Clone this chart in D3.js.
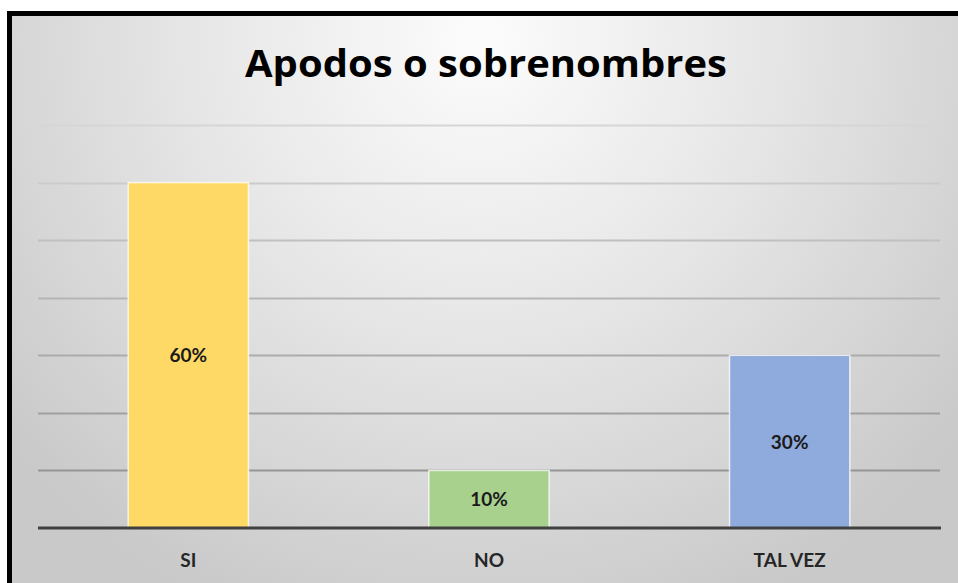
<!DOCTYPE html>
<html>
<head>
<meta charset="utf-8">
<script src="https://cdn.jsdelivr.net/npm/d3@7"></script>
<style>
  html, body { margin: 0; padding: 0; background: #ffffff; }
  svg { display: block; }
</style>
</head>
<body>
<svg id="chart" width="958" height="583"></svg>
<script>
const title = "Apodos o sobrenombres";
const categories = ["SI", "NO", "TAL VEZ"];
const values = [0.60, 0.10, 0.30];
const valueLabels = ["60%", "10%", "30%"];
const gridTicks = [0, 0.1, 0.2, 0.3, 0.4, 0.5, 0.6, 0.7];
const barColors = ["#FFD966", "#A9D18E", "#8FAADC"];

const W = 958, H = 583;
const svg = d3.select("#chart");
const defs = svg.append("defs");

const bg = defs.append("radialGradient")
  .attr("id", "bgGrad")
  .attr("gradientUnits", "userSpaceOnUse")
  .attr("cx", 480).attr("cy", 40).attr("r", 620);
bg.append("stop").attr("offset", "0").attr("stop-color", "#fcfcfc");
bg.append("stop").attr("offset", "0.45").attr("stop-color", "#e7e7e7");
bg.append("stop").attr("offset", "1").attr("stop-color", "#c9c9c9");

// chart area + frame
svg.append("rect")
  .attr("x", 9.5).attr("y", 13.5)
  .attr("width", W + 20).attr("height", H + 20)
  .attr("fill", "url(#bgGrad)")
  .attr("stroke", "#000").attr("stroke-width", 5);

const plot = { left: 38, right: 940, top: 125, bottom: 528 };

const x = d3.scaleBand()
  .domain(categories)
  .range([plot.left, plot.right])
  .paddingInner(0.6)
  .paddingOuter(0.3);

const y = d3.scaleLinear()
  .domain([0, 0.7])
  .range([plot.bottom, plot.top]);

const gridColor = d3.scaleLinear()
  .domain([0, 0.7])
  .range(["#8a8a8a", "#d6d6d6"]);

// gridlines
svg.append("g")
  .selectAll("line")
  .data(gridTicks.filter(d => d > 0))
  .join("line")
  .attr("x1", plot.left).attr("x2", plot.right)
  .attr("y1", d => Math.round(y(d)) + 0.5)
  .attr("y2", d => Math.round(y(d)) + 0.5)
  .attr("stroke", d => gridColor(d))
  .attr("stroke-width", 2);

// bars
svg.append("g")
  .selectAll("rect")
  .data(values)
  .join("rect")
  .attr("x", (d, i) => x(categories[i]))
  .attr("y", d => y(d))
  .attr("width", x.bandwidth())
  .attr("height", d => y(0) - y(d))
  .attr("fill", (d, i) => barColors[i])
  .attr("stroke", "rgba(255,255,255,0.75)")
  .attr("stroke-width", 1.5);

// axis line
const xAxis = d3.axisBottom(x).tickSize(0).tickPadding(0);
const gx = svg.append("g")
  .attr("transform", `translate(0,${y(0)})`)
  .call(xAxis);
gx.select(".domain")
  .attr("d", `M${plot.left},0H${plot.right + 1}`)
  .attr("stroke", "#404040")
  .attr("stroke-width", 3);
gx.selectAll(".tick text")
  .attr("y", 0)
  .attr("dy", "39px")
  .attr("font-family", "Lato, 'Open Sans', sans-serif")
  .attr("font-weight", "bold")
  .attr("font-size", 19)
  .attr("fill", "#262626");

// value labels
svg.append("g")
  .selectAll("text")
  .data(values)
  .join("text")
  .attr("x", (d, i) => x(categories[i]) + x.bandwidth() / 2)
  .attr("y", d => (y(d) + y(0)) / 2 + 7)
  .attr("text-anchor", "middle")
  .attr("font-family", "Lato, 'Open Sans', sans-serif")
  .attr("font-weight", "bold")
  .attr("font-size", 19)
  .attr("fill", "#1a1a1a")
  .text((d, i) => valueLabels[i]);

// title
svg.append("text")
  .attr("x", 486)
  .attr("y", 77)
  .attr("text-anchor", "middle")
  .attr("font-family", "'Open Sans', Lato, sans-serif")
  .attr("font-weight", "bold")
  .attr("font-size", 37)
  .attr("fill", "#000")
  .attr("textLength", 482)
  .attr("lengthAdjust", "spacingAndGlyphs")
  .text(title);
</script>
</body>
</html>
